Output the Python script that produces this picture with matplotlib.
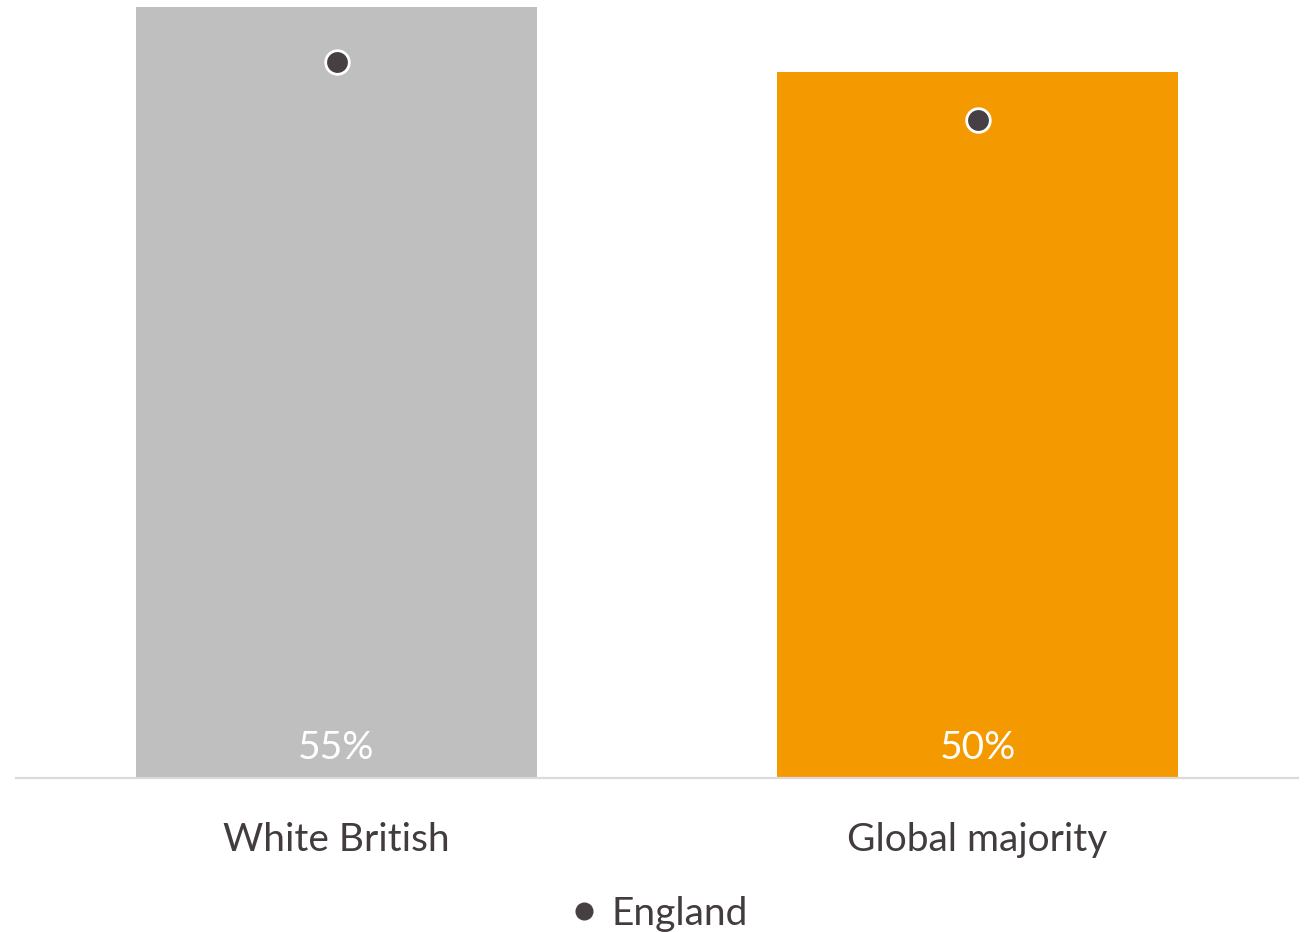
import matplotlib.pyplot as plt
from matplotlib.lines import Line2D

plt.rcParams['font.family'] = ['Lato', 'DejaVu Sans']

groups = ["White British", "Global majority"]
shares = [54.6, 50.0]          # bar values (%)
england = [50.7, 46.6]         # England reference dots (%)
bar_colors = ["#BFBFBF", "#F59900"]
text_col = "#433C3F"
dot_col = "#463F43"

fig = plt.figure(figsize=(13.04, 9.32), dpi=100)
ax = fig.add_axes([16 / 1304, 1 - 778 / 932, 1282 / 1304, 778 / 932])

x = range(len(groups))
ax.bar(x, shares, width=0.626, color=bar_colors)
for xi, v in zip(x, shares):
    ax.text(xi, 0.85, f"{v:.0f}%", ha="center", va="bottom", color="white", fontsize=28)

ax.plot(list(x), england, linestyle="none", marker="o", markersize=17,
        markerfacecolor=dot_col, markeredgecolor="white", markeredgewidth=2, zorder=3)

ax.set_xlim(-0.5, 1.5)
ax.set_ylim(0, 778 / 14.12)
ax.set_yticks([])
ax.set_xticks(list(x))
ax.set_xticklabels(groups, fontsize=28, color=text_col)
ax.tick_params(axis="x", length=0, pad=32)
for s in ["top", "right", "left"]:
    ax.spines[s].set_visible(False)
ax.spines["bottom"].set_color("#DDD9DA")
ax.spines["bottom"].set_linewidth(1.6)

handle = Line2D([], [], linestyle="none", marker="o", markersize=12,
                markerfacecolor=dot_col, markeredgecolor=dot_col)
fig.legend([handle], ["England"], loc="center", bbox_to_anchor=(0.507, 1 - 914 / 932),
           frameon=False, fontsize=28, labelcolor=text_col, handletextpad=0.45,
           handlelength=0.5)

plt.savefig("out.png", dpi=100)
